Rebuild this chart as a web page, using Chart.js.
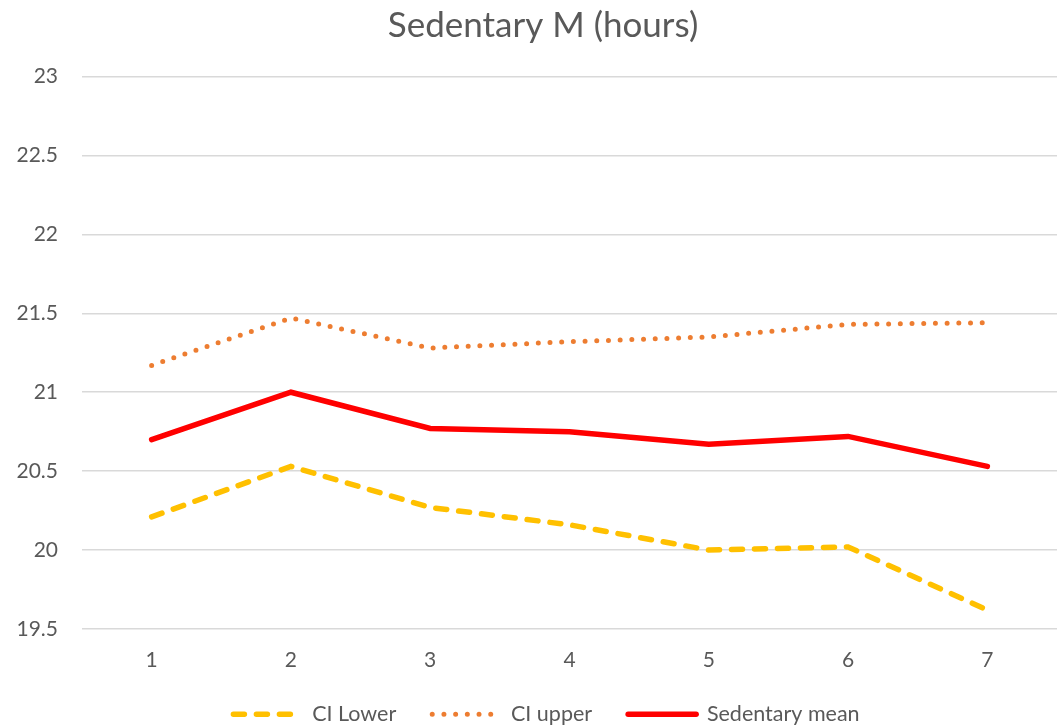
<!DOCTYPE html>
<html>
<head>
<meta charset="utf-8">
<script src="https://cdn.jsdelivr.net/npm/chart.js@4"></script>
<style>
  html, body { margin: 0; padding: 0; background: #fff; }
  #wrap { width: 1059px; height: 726px; }
</style>
</head>
<body>
<div id="wrap"><canvas id="myChart" width="1059" height="726"></canvas></div>
<script>
"use strict";

// data
let days = ['1', '2', '3', '4', '5', '6', '7'];
let ciLower = [20.21, 20.53, 20.27, 20.16, 20.0, 20.02, 19.62];
let ciUpper = [21.17, 21.47, 21.28, 21.32, 21.35, 21.43, 21.44];
let sedentaryMean = [20.70, 21.0, 20.77, 20.75, 20.67, 20.72, 20.53];
let yTicks = [19.5, 20, 20.5, 21, 21.5, 22, 22.5, 23];

let fontName = 'Lato';
let grey = '#595959';

// legend uses a wide padding between items, so trim its height after fit;
// title and legend sit a bit right of the canvas centre in the original
const legendTweaks = {
    id: 'legendTweaks',
    afterInit(chart) {
        const legend = chart.legend;
        const fit = legend.fit;
        legend.fit = function() {
            fit.call(this);
            this.height = 58.5;
        };
    },
    afterLayout(chart) {
        chart.titleBlock.left += 29;
        chart.legend.left += 36;
    }
};

const ctx = document.getElementById('myChart').getContext('2d');
const myChart = new Chart(ctx, {
    type: 'line',
    data: {
        labels: days,
        datasets: [{
            label: 'CI Lower',
            data: ciLower,
            borderColor: '#FFC000',
            backgroundColor: '#FFC000',
            borderWidth: 5.5,
            borderDash: [11, 12],
            borderCapStyle: 'round',
            pointRadius: 0,
            tension: 0
        }, {
            label: 'CI upper',
            data: ciUpper,
            borderColor: '#ED7D31',
            backgroundColor: '#ED7D31',
            borderWidth: 5,
            borderDash: [0, 11.7],
            borderCapStyle: 'round',
            pointRadius: 0,
            tension: 0
        }, {
            label: 'Sedentary mean',
            data: sedentaryMean,
            borderColor: '#FF0000',
            backgroundColor: '#FF0000',
            borderWidth: 5.5,
            borderCapStyle: 'round',
            pointRadius: 0,
            tension: 0
        }]
    },
    options: {
        responsive: false,
        animation: false,
        layout: {
            padding: { left: 0, right: 2, top: 0, bottom: 0 }
        },
        plugins: {
            title: {
                display: true,
                text: 'Sedentary M (hours)',
                color: grey,
                font: { family: fontName, size: 35, weight: 'normal' },
                padding: { top: 5, bottom: 29.5 }
            },
            legend: {
                position: 'bottom',
                labels: {
                    color: grey,
                    font: { family: fontName, size: 21.5 },
                    usePointStyle: true,
                    pointStyle: 'line',
                    pointStyleWidth: 68,
                    padding: 36,
                    generateLabels: function(chart) {
                        let items = Chart.defaults.plugins.legend.labels.generateLabels(chart);
                        for (let i = 0; i < items.length; i++) {
                            let ds = chart.data.datasets[items[i].datasetIndex];
                            items[i].lineDash = ds.borderDash || [];
                            items[i].lineCap = ds.borderCapStyle;
                            items[i].lineWidth = ds.borderWidth;
                            items[i].strokeStyle = ds.borderColor;
                            items[i].fillStyle = ds.borderColor;
                        }
                        return items;
                    }
                }
            },
            tooltip: { enabled: false }
        },
        scales: {
            x: {
                offset: true,
                grid: { display: false, drawTicks: false },
                border: { display: false },
                ticks: {
                    color: grey,
                    font: { family: fontName, size: 21 },
                    padding: 19
                },
                afterFit: function(scale) { scale.height = 38.5; }
            },
            y: {
                min: yTicks[0],
                max: yTicks[yTicks.length - 1],
                grid: { color: '#d9d9d9', lineWidth: 1.5, drawTicks: false },
                border: { display: false },
                afterBuildTicks: function(scale) {
                    scale.ticks = yTicks.map(v => ({ value: v }));
                },
                ticks: {
                    color: grey,
                    font: { family: fontName, size: 21 },
                    padding: 24,
                    callback: function(value) { return String(value); }
                },
                afterFit: function(scale) { scale.width = 82; }
            }
        }
    },
    plugins: [legendTweaks]
});
</script>
</body>
</html>
